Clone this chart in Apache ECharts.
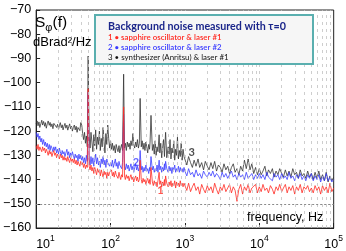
<!DOCTYPE html>
<html><head><meta charset="utf-8">
<script src="https://cdn.jsdelivr.net/npm/echarts@6/dist/echarts.min.js"></script>
<style>html,body{margin:0;padding:0;background:#fff}#c{width:346px;height:251px}</style>
</head><body><div id="c"></div>
<script>
// frequency grid (Hz)
const freq = [
10,10.3,10.6,10.9,11.2,11.6,11.9,12.2,12.6,13,
13.3,13.7,14.1,14.5,15,15.4,15.8,16.3,16.8,17.3,
17.8,18.3,18.8,19.4,20,20.5,21.1,21.8,22.4,23,
23.7,24.4,25.1,25.9,26.6,27.4,28.2,29,29.9,30.7,
31.6,32.6,33.5,34.5,35.5,36.5,37.6,38.7,39.8,41,
42.2,43.4,44.7,46,47.3,48.7,50,51.6,53.1,54.6,
56.2,57.9,59.6,61.3,63.1,64.9,66.8,68.8,70.8,72.9,
75,77.2,79.4,81.8,84.1,86.6,89.1,91.7,94.4,97.2,
100,103,106,109,112,116,119,122,126,130,
133,137,141,145,150,154,158,163,168,173,
178,183,188,194,200,205,211,218,224,230,
237,244,250,259,266,274,282,290,299,307,
316,326,335,340,350,365,376,387,398,410,
422,434,450,460,473,487,501,516,531,538,
550,570,596,613,631,649,668,688,708,729,
750,772,794,818,841,866,891,917,944,972,
1000,1060,1120,1190,1260,1330,1410,1500,1580,1680,1780,1880,2000,2110,2240,2370,2510,2660,2820,2990,3160,3350,3550,3760,3980,4220,4470,4730,5010,5310,5620,5960,6310,6680,7080,7500,7940,8410,8910,9440,
10000,10600,11200,11900,12600,13300,14100,15000,15800,16800,17800,18800,20000,21100,22400,23700,25100,26600,28200,29900,31600,33500,35500,37600,39800,42200,44700,47300,50100,53100,56200,59600,63100,66800,70800,75000,79400,84100,89100,94400,
100000];
// 3: synthesizer (Anritsu) & laser #1, dBrad^2/Hz
const synth = [
-117,-115.8,-117.8,-116.2,-118.5,-116.8,-115.5,-117.5,-116,-118,
-116.5,-118.8,-117,-115.8,-117.6,-116.4,-118.2,-117,-119,-116.8,
-117.5,-116,-118.5,-117.2,-119.2,-117.8,-116.5,-118.6,-117.4,-119.5,
-118,-116.8,-118.8,-117.5,-119.6,-118.2,-117,-119,-118,-120,
-118.5,-117.5,-119.5,-118,-120.5,-118.5,-117.8,-119.8,-116.5,-117.5,
-121,-123.5,-120.5,-125,-122,-126.5,-89,-122,-127,-120.5,
-124.5,-128.5,-121.5,-126,-119.5,-127.5,-122.5,-125.5,-120,-128,
-123,-126.5,-118.5,-124.5,-129,-121,-125.5,-117.5,-123,-127,
-124,-127.5,-125,-128,-126,-129,-125.5,-127,-128.5,-126,
-129,-127,-125.5,-128,-96.5,-127,-125,-128,-124.5,-126.5,
-125,-127.5,-124,-126,-121,-125.5,-127,-124.5,-126.5,-123.5,
-127,-125,-106.5,-126.5,-124,-127.5,-125,-128,-124.5,-126.5,
-129,-125.5,-127.5,-124.5,-113.5,-128,-125.5,-129.5,-124,-130,
-126.5,-128.5,-121.5,-129,-125,-131,-127,-123.5,-130.5,-126,
-120.5,-131,-126.5,-129.5,-123.5,-131.5,-127,-129,-124,-132,
-127.5,-130,-122.5,-131.5,-128,-130.5,-125,-132,-127.5,-130.5,
-131,-134,-130.5,-133,-135,-132,-134.5,-131.5,-135,-133,-136,-132.5,-134.5,-136,-133,-135.5,-132.5,-136.5,-134,-135,
-137,-133.5,-136,-134.5,-137.5,-135,-133.5,-137,-135.5,-138,-134.5,-136.5,-132,-135.5,-131.5,-136,-133.5,-137.5,-135,-138,
-135.5,-138,-136.5,-134.5,-138.5,-136,-137.5,-135.5,-139,-136.5,-138,-135.5,-137.5,-139,-136,-138.5,-136.5,-139,-135.5,-138,
-137,-139.5,-136,-138.5,-137.5,-139.5,-136.5,-139,-137.5,-140,-137,-139.5,-136.5,-140,-138,-140.5,-137,-141,-138.5,-140.5,
-139];
// 2: sapphire oscillator & laser #2
const laser2 = [
-120.5,-122.5,-121,-123.5,-122,-124.5,-123,-125.5,-123.5,-126,
-124.5,-126.5,-125,-127.5,-125.5,-128,-126,-127,-128.5,-126.5,
-128,-126.5,-129,-127.5,-129.5,-127,-128.5,-130,-128,-129.5,
-128.5,-130.5,-129,-127.5,-130,-128.5,-131,-129,-130.5,-128.5,
-130,-131.5,-129.5,-131,-130,-132.5,-129.5,-131.5,-130,-132,
-130.5,-133,-131,-133.5,-130,-132.5,-104,-131.5,-134,-130.5,
-133.5,-131,-134.5,-132,-129.5,-133.5,-131,-134,-132.5,-135,
-131.5,-133.5,-130.5,-134,-132,-135,-131.5,-133,-132.5,-134.5,
-133,-134.5,-132,-135,-133.5,-131.5,-134.5,-133,-135.5,-132.5,
-134,-133.5,-135.5,-133,-113,-134.5,-136,-133.5,-135.5,-134,
-136.5,-135,-133.5,-136,-134.5,-137,-135,-133.5,-136,-134.5,
-136.5,-135,-128,-136,-134.5,-137,-135,-136.5,-134,-136.5,
-135.5,-137.5,-135,-136.5,-130.5,-136,-134.5,-137,-135.5,-136.5,
-134,-137,-132,-136,-134.5,-137,-135,-136.5,-133.5,-136,
-132.5,-135.5,-137,-134.5,-136.5,-135,-137.5,-135,-136,-134,
-137,-135.5,-136.5,-134.5,-137,-135,-136.5,-135.5,-137,-135,
-136.5,-138.5,-135.5,-138,-137,-139,-136,-138.5,-137.5,-139.5,-136.5,-138,-139,-137,-138.5,-136.5,-139,-137.5,-138.5,-140,
-137,-139,-137.5,-139.5,-138,-136.5,-139,-138,-140,-137.5,-139,-138,-140,-137,-139.5,-138.5,-137.5,-140,-138,-139.5,
-137.5,-139.5,-138,-140,-137,-139,-138.5,-140.5,-137.5,-139,-138,-140,-137.5,-139.5,-138.5,-140,-137,-139.5,-138.5,-140.5,
-138,-139.5,-137.5,-140,-138.5,-140.5,-138,-139.5,-137.5,-140.5,-138.5,-140,-138,-141,-138.5,-140.5,-137.5,-140.5,-139,-141,
-140];
// 1: sapphire oscillator & laser #1
const laser1 = [
-126,-127.5,-125.5,-128,-126.5,-127,-128.5,-126.5,-128,-127,
-129,-127.5,-128.5,-130,-128,-129.5,-128.5,-130.5,-129,-128,
-130,-129,-131,-129.5,-130.5,-131.5,-129.5,-131,-130,-132,
-130.5,-132,-131,-132.5,-130.5,-132,-133,-131,-132.5,-131.5,
-133,-131.5,-133.5,-132,-134,-132.5,-133,-134.5,-132.5,-134,
-133,-135,-133.5,-135.5,-134,-135,-102.5,-134.5,-136,-134,
-136.5,-135,-137.5,-135,-136.5,-138,-135.5,-137,-136,-138.5,
-136,-137.5,-139,-136.5,-138,-137,-139.5,-137,-138.5,-137,
-137.5,-136,-138.5,-137,-139,-136.5,-138,-137.5,-139.5,-137,
-138.5,-140,-138,-139,-110,-138.5,-140,-138,-139.5,-138.5,
-140.5,-139,-138,-140,-139,-141,-139.5,-138.5,-140.5,-139,
-141,-140,-132,-140,-141.5,-139.5,-141,-140,-142,-140.5,
-139.5,-141.5,-140,-142,-135,-141,-142.5,-140.5,-142,-141,
-143,-140.5,-137,-142,-140.5,-143,-141,-142.5,-140,-142.5,
-138.5,-141.5,-143,-141,-142.5,-140.5,-143,-141.5,-142.5,-140.5,
-143.5,-141,-142.5,-141.5,-143,-140.5,-142.5,-141.5,-143,-141.5,
-142,-144.5,-141.5,-145,-143,-141.5,-144.5,-143,-146,-142,-144,-145.5,-142.5,-144.5,-143,-145.5,-141.5,-144,-146,-143,
-144.5,-142,-145,-143.5,-142,-145.5,-143,-144.5,-149,-144,-142,-146,-143,-144.5,-142,-145.5,-143.5,-144,-142,-145.5,
-143,-145,-142,-144.5,-143.5,-145.5,-142.5,-144,-146,-143,-144.5,-142,-145,-143.5,-142,-145.5,-143,-144.5,-142.5,-146,
-143,-144.5,-142,-145.5,-143,-144,-142.5,-145,-143.5,-145.5,-142.5,-144.5,-143,-146,-142.5,-144.5,-143,-145.5,-141.5,-145,
-143.5];
// vertical dashed grid frequencies
const gridFreqs = [20,30,40,50,60,70,80,90,100,200,300,400,500,600,700,800,900,1000,2000,3000,4000,5000,6000,7000,8000,9000,10000,20000,30000,40000,50000,60000,70000,80000,90000];
const refLevel = -150;
// curve number labels [freq, dB, text]
const curveLabels = [[469,-144.5,'1'],[220,-133.1,'2'],[1236,-129,'3']];
const legendTitle = 'Background noise measured with \u03c4=0';
const legendLines = ['1 \u2022 sapphire oscillator & laser #1','2 \u2022 sapphire oscillator & laser #2','3 \u2022 synthesizer (Anritsu) & laser #1'];

const RED='#ff2a22', BLUE='#3a3cff', BLACK='#333333';
const chart = echarts.init(document.getElementById('c'), null, {renderer:'canvas'});
const FONT='Liberation Sans';
const pairs = a => freq.map((f,i)=>[f,a[i]]);
const lbColors=[RED,BLUE,'#222'];
chart.setOption({
  animation:false,
  grid:{left:31,right:10,top:10,bottom:20,show:true,borderColor:'#222',borderWidth:1},
  xAxis:{type:'log',logBase:10,min:10,max:100000,
    axisLine:{show:true,lineStyle:{color:'#222'}},
    axisTick:{show:true,inside:true,length:5,lineStyle:{color:'#222'}},
    splitLine:{show:false},
    axisLabel:{margin:6,alignMinLabel:'left',color:'#000',
      formatter:v=>'{b|10}{s|'+Math.round(Math.log10(v))+'}',
      rich:{b:{fontFamily:FONT,fontSize:12.5,color:'#000',lineHeight:17,verticalAlign:'bottom'},
            s:{fontFamily:FONT,fontSize:8.5,color:'#000',verticalAlign:'top',lineHeight:17}}}},
  yAxis:{type:'value',min:-160,max:-70,interval:10,
    axisLine:{show:true,lineStyle:{color:'#222'}},
    axisTick:{show:true,inside:true,length:4,lineStyle:{color:'#222'}},
    splitLine:{show:false},
    axisLabel:{margin:5,fontFamily:FONT,fontSize:12.5,color:'#000',formatter:v=>(v<0?'\u2212':'')+Math.abs(v)}},
  series:[
    {type:'line',data:[],z:1,silent:true,
      markLine:{silent:true,symbol:'none',label:{show:false},animation:false,
        data:gridFreqs.map(f=>({xAxis:f,lineStyle:{color:'#c2c2c2',width:0.8,type:[3,4]}}))
          .concat([{yAxis:refLevel,lineStyle:{color:'#8a8a8a',width:1,type:[2,2]}}])}},
    {type:'line',data:pairs(synth),symbol:'none',z:2,lineStyle:{color:BLACK,width:0.8}},
    {type:'line',data:pairs(laser2),symbol:'none',z:3,lineStyle:{color:BLUE,width:0.8}},
    {type:'line',data:pairs(laser1),symbol:'none',z:4,lineStyle:{color:RED,width:0.8}},
    {type:'scatter',z:5,symbolSize:0,data:curveLabels.map((d,i)=>({value:[d[0],d[1]],label:{show:true,position:'inside',formatter:d[2],color:lbColors[i],fontFamily:'Lato',fontWeight:'bold',fontSize:11}}))}
  ],
  graphic:[
    {type:'rect',shape:{x:95,y:15,width:218,height:49},style:{fill:'#f6f6f6',stroke:'#5aafaf',lineWidth:2},z:10},
    {type:'text',x:108,y:27,z:11,style:{text:legendTitle,font:'bold 10.7px Lato',fill:'#1a258a',verticalAlign:'middle'}},
    {type:'text',x:108,y:37.3,z:11,style:{text:legendLines[0],font:'600 7.9px Lato',fill:RED,verticalAlign:'middle'}},
    {type:'text',x:108,y:47.3,z:11,style:{text:legendLines[1],font:'600 7.9px Lato',fill:BLUE,verticalAlign:'middle'}},
    {type:'text',x:108,y:57.3,z:11,style:{text:legendLines[2],font:'7.9px Lato',fill:'#111',verticalAlign:'middle'}},
    {type:'text',x:35,y:23,z:11,style:{text:'{a|S}{b|\u03c6}{a|(f)}',verticalAlign:'middle',
      rich:{a:{fontFamily:FONT,fontSize:15.5,fill:'#000',lineHeight:20,verticalAlign:'middle'},b:{fontFamily:FONT,fontSize:11,fill:'#000',verticalAlign:'bottom',lineHeight:20}}}},
    {type:'text',x:33,y:42,z:11,style:{text:'dBrad\u00b2/Hz',font:'13px "Liberation Sans"',fill:'#000',verticalAlign:'middle'}},
    {type:'text',x:247,y:218,z:11,style:{text:'frequency, Hz',font:'12.5px "Liberation Sans"',fill:'#000',verticalAlign:'middle'}}
  ]
});
</script></body></html>
